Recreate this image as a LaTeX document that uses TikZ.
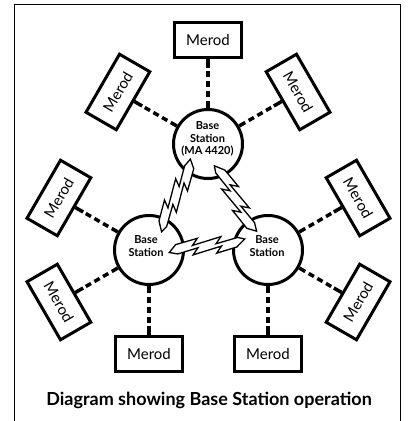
\documentclass[tikz,border=0pt]{standalone}
\usepackage{fontspec}
\setmainfont{Lato}
\usetikzlibrary{calc}
\newcommand\linkit[2]{%
  \draw[dashline, shorten <=7pt, shorten >=9pt] (#1) -- (#2);
  \draw[stubline] (#1) -- ($(#1)!7pt!(#2)$);
  \draw[stubline] (#2) -- ($(#2)!9pt!(#1)$);}
\newcommand\boltit[2]{%
  \path let \p1=($(#2)-(#1)$), \n1={atan2(\y1,\x1)}, \n2={veclen(\x1,\y1)} in
    (#1) pic[rotate=\n1, xscale={\n2/100}, yscale=1.35] {boltshape};}
\begin{document}
\begin{tikzpicture}[x=1pt,y=1pt,
  merod/.style={draw, line width=3pt, minimum width=67pt, minimum height=35pt,
    inner sep=0pt, fill=white, font=\fontsize{15}{18}\selectfont},
  station/.style={draw, circle, line width=3pt, minimum size=69pt, inner sep=0pt},
  stxt/.style={font=\bfseries\fontsize{11}{12.8}\selectfont, align=center, inner sep=0pt},
  dashline/.style={line width=3.5pt, dash pattern=on 6pt off 4pt, dash phase=6pt},
  stubline/.style={line width=3.5pt},
  bolt/.style={draw, fill=white, line width=1.3pt, line join=miter},
  boltshape/.pic={
    \draw[bolt] (0,-3) -- (9,2.5) -- (38,6) -- (31,1) -- (69,6) -- (62,1)
      -- (91,4.5) -- (100,3) -- (89,-2.5) -- (62,-6) -- (69,-1) -- (31,-6)
      -- (38,-1) -- (11,-4.5) -- cycle;
  },
]
\useasboundingbox (0,0) rectangle (409,421);
\draw[line width=1.4pt] (14.5,-2) -- (14.5,416.5) -- (400.5,416.5) -- (400.5,-2);

% stations
\node[station] (T) at (208,277) {};
\node[station] (L) at (149,171) {};
\node[station] (R) at (268,171) {};

% merods
\node[merod] (t90) at (208,381) {Merod};
\node[merod, rotate=60] (t150) at (117.9,329) {Merod};
\node[merod, rotate=-60] (t30) at (298.1,329) {Merod};
\node[merod, rotate=60] (l150) at (58.9,223) {Merod};
\node[merod, rotate=-60] (l210) at (58.9,119) {Merod};
\node[merod] (l270) at (149,67) {Merod};
\node[merod, rotate=-60] (r30) at (358.1,223) {Merod};
\node[merod, rotate=60] (r330) at (358.1,119) {Merod};
\node[merod] (r270) at (268,67) {Merod};

% links
\linkit{T.90}{t90.south}
\linkit{T.150}{t150.south}
\linkit{T.30}{t30.south}
\linkit{L.150}{l150.south}
\linkit{L.210}{l210.north}
\linkit{L.270}{l270.north}
\linkit{R.30}{r30.south}
\linkit{R.330}{r330.north}
\linkit{R.270}{r270.north}

% station labels
\node[stxt] (tt) at (207.5,282) {Base\\Station\\(MA 4420)};
\node[stxt] (lt) at (146,175) {Base\\Station};
\node[stxt] (rt) at (267,175) {Base\\Station};

% radio bolts
\coordinate (b1s) at (194,260);
\coordinate (b1e) at (158,191);
\coordinate (b2s) at (253,188);
\coordinate (b2e) at (218,257);
\coordinate (b3s) at (169,172.5);
\coordinate (b3e) at (245,178);
\boltit{b1s}{b1e}
\boltit{b2s}{b2e}
\boltit{b3s}{b3e}

% title
\node[font=\bfseries\fontsize{18}{21}\selectfont, anchor=base, inner sep=0pt] (title)
  at (209,16) {Diagram showing Base Station operation};
\end{tikzpicture}
\end{document}
